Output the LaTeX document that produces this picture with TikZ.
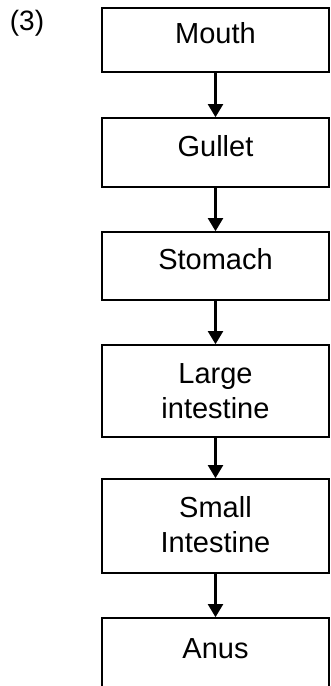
\documentclass[tikz,border=0pt]{standalone}
\usepackage{fontspec}
\setmainfont{Liberation Sans}
\usetikzlibrary{arrows.meta}
\begin{document}
\begin{tikzpicture}[x=1pt,y=-1pt,
  organbox/.style={draw=black, line width=1.7pt, rectangle, minimum width=227pt,
    inner sep=0pt, align=center, font=\fontsize{29}{35}\selectfont},
  shiftup/.style={text depth=14pt},
  flow/.style={line width=2.2pt, -{Triangle[width=15pt,length=13pt]}}]
\useasboundingbox (0,0) rectangle (330,686);
\clip (0,0) rectangle (330,686);
\node[font=\fontsize{28}{32}\selectfont] (lbl) at (27,23) {(3)};
\node[organbox, shiftup, minimum height=64pt] (mouth) at (215.5,40) {Mouth};
\node[organbox, shiftup, minimum height=69pt] (gullet) at (215.5,152.5) {Gullet};
\node[organbox, shiftup, minimum height=68pt] (stomach) at (215.5,266) {Stomach};
\node[organbox, minimum height=92pt] (large) at (215.5,391) {Large\\intestine};
\node[organbox, text depth=4pt, minimum height=94pt] (small) at (215.5,526) {Small\\Intestine};
\node[organbox, shiftup, minimum height=76pt] (anus) at (215.5,656) {Anus};
\draw[flow] (mouth.south) -- (gullet.north);
\draw[flow] (gullet.south) -- (stomach.north);
\draw[flow] (stomach.south) -- (large.north);
\draw[flow] (large.south) -- (small.north);
\draw[flow] (small.south) -- (anus.north);
\end{tikzpicture}
\end{document}
